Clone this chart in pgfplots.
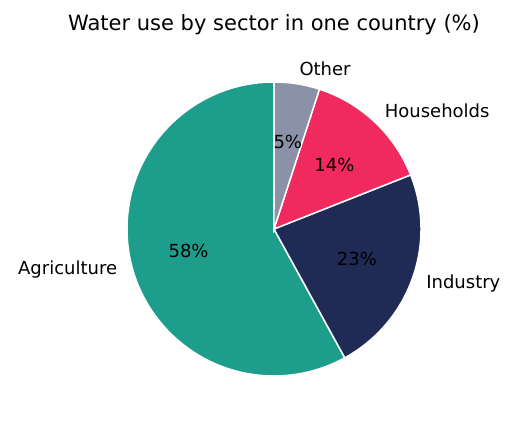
\documentclass[border=0pt]{standalone}
\usepackage{pgfplots}
\usepackage{pgfplotstable}
\pgfplotsset{compat=1.18}
\usepackage{fontspec}
\setmainfont{DejaVu Sans}

\definecolor{agri}{HTML}{1D9E8C}
\definecolor{indu}{HTML}{1F2A55}
\definecolor{hous}{HTML}{F02A5E}
\definecolor{othr}{HTML}{8B91A6}

% slices, counterclockwise from the top
\pgfplotstableread{
label value colour
Agriculture 58 agri
Industry 23 indu
Households 14 hous
Other 5 othr
}\piedata

\newcommand\lbl{\fontsize{18}{21}\selectfont}

\begin{document}
\begin{tikzpicture}
% angles of every slice
\pgfplotstablegetrowsof{\piedata}
\pgfmathtruncatemacro\nrows{\pgfplotsretval-1}
\gdef\total{0}
\pgfplotsforeachungrouped \i in {0,...,\nrows}{%
  \pgfplotstablegetelem{\i}{value}\of\piedata
  \pgfmathsetmacro\t{\total+\pgfplotsretval}\xdef\total{\t}}
\gdef\cum{90}
\pgfplotsforeachungrouped \i in {0,...,\nrows}{%
  \pgfplotstablegetelem{\i}{value}\of\piedata \let\v\pgfplotsretval
  \expandafter\xdef\csname pv\i\endcsname{\v}%
  \pgfplotstablegetelem{\i}{label}\of\piedata
  \expandafter\xdef\csname pl\i\endcsname{\pgfplotsretval}%
  \pgfplotstablegetelem{\i}{colour}\of\piedata
  \expandafter\xdef\csname pc\i\endcsname{\pgfplotsretval}%
  \pgfmathsetmacro\b{\cum+\v/\total*360}%
  \pgfmathsetmacro\m{(\cum+\b)/2}%
  \pgfmathsetmacro\cm{cos(\m)}%
  \expandafter\xdef\csname pa\i\endcsname{\cum}%
  \expandafter\xdef\csname pb\i\endcsname{\b}%
  \expandafter\xdef\csname pm\i\endcsname{\m}%
  \ifdim\cm pt<0pt \expandafter\xdef\csname pn\i\endcsname{east}%
  \else \expandafter\xdef\csname pn\i\endcsname{west}\fi
  \xdef\cum{\b}}
\begin{axis}[
  x=147pt, y=147pt,
  xmin=-1.8639, xmax=1.6531, ymin=-1.3673, ymax=1.5578,
  hide axis, clip=false,
]
\path (axis cs:-1.8639,-1.3673) rectangle (axis cs:1.6531,1.5578);
\pgfplotsinvokeforeach{0,...,\nrows}{
  \fill[\csname pc#1\endcsname, draw=white, line width=1.5pt]
    (axis cs:0,0) -- ++(\csname pa#1\endcsname:147pt)
    arc[start angle=\csname pa#1\endcsname, end angle=\csname pb#1\endcsname, radius=147pt] -- cycle;
}
\pgfplotsinvokeforeach{0,...,\nrows}{
  \node[font=\lbl, anchor=\csname pn#1\endcsname, inner sep=0pt]
    at (axis cs:{1.1*cos(\csname pm#1\endcsname)},{1.1*sin(\csname pm#1\endcsname)}) {\csname pl#1\endcsname};
  \node[font=\lbl, inner sep=0pt]
    at (axis cs:{0.6*cos(\csname pm#1\endcsname)},{0.6*sin(\csname pm#1\endcsname)}) {\csname pv#1\endcsname\%};
}
\node[font=\fontsize{21}{25}\selectfont, inner sep=0pt] at (axis cs:0,1.3878)
  {Water use by sector in one country (\%)};
\end{axis}
\end{tikzpicture}
\end{document}
